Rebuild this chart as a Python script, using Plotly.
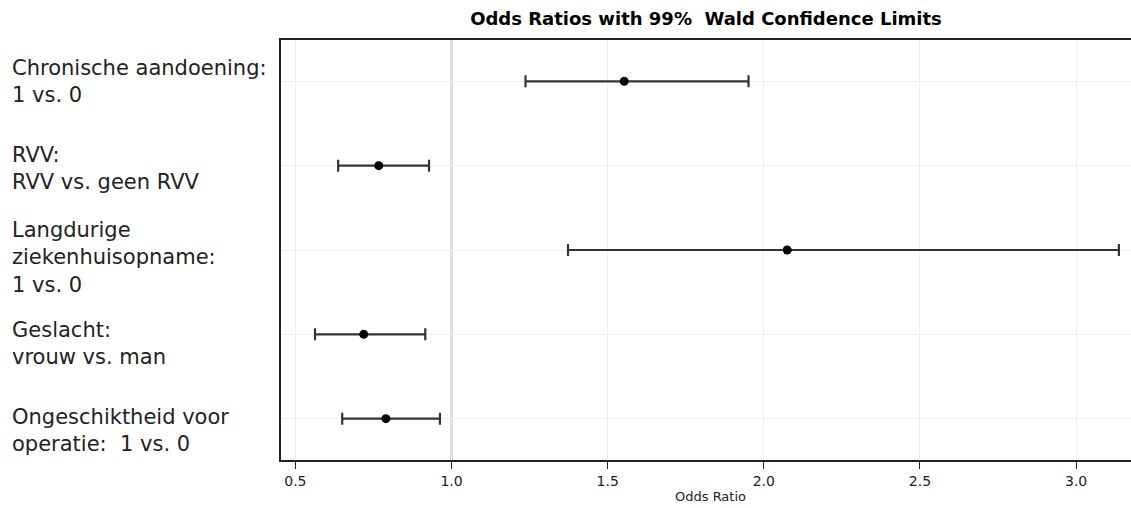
import plotly.graph_objects as go

# ---- data ----
labels = [
    "Chronische aandoening:<br>1 vs. 0",
    "RVV:<br>RVV vs. geen RVV",
    "Langdurige<br>ziekenhuisopname:<br>1 vs. 0",
    "Geslacht:<br>vrouw vs. man",
    "Ongeschiktheid voor<br>operatie:  1 vs. 0",
]
odds_ratio = [1.553, 0.767, 2.075, 0.719, 0.790]
lower_cl = [1.237, 0.637, 1.373, 0.563, 0.650]
upper_cl = [1.951, 0.928, 3.137, 0.916, 0.963]
x_ticks = [0.5, 1.0, 1.5, 2.0, 2.5, 3.0]
x_tick_text = ["0.5", "1.0", "1.5", "2.0", "2.5", "3.0"]
ref_value = 1.0
title_text = "Odds Ratios with 99%  Wald Confidence Limits"
x_title = "Odds Ratio"

rows = list(range(len(labels)))
err_plus = [u - o for u, o in zip(upper_cl, odds_ratio)]
err_minus = [o - l for o, l in zip(odds_ratio, lower_cl)]

FIG_W = 1140
PLOT_W = FIG_W - 281

fig = go.Figure()
fig.add_trace(go.Scatter(
    x=odds_ratio, y=rows, mode="markers",
    marker=dict(color="black", size=9, symbol="circle"),
    error_x=dict(type="data", symmetric=False, array=err_plus, arrayminus=err_minus,
                 color="#333333", thickness=2.2, width=6),
    showlegend=False, hoverinfo="x+y",
))

fig.add_shape(type="line", xref="x", yref="paper", x0=ref_value, x1=ref_value, y0=0, y1=1,
              line=dict(color="#a8a8a8", width=2), layer="between")

label_shift = [0, -3, -7, -9, -12]
for r, lab, ys in zip(rows, labels, label_shift):
    fig.add_annotation(text=lab, xref="paper", yref="y", x=-271 / PLOT_W, y=r,
                       xanchor="left", yanchor="middle", align="left", showarrow=False,
                       yshift=ys, font=dict(family="DejaVu Sans", size=21, color="#222"))

fig.update_layout(
    width=FIG_W, height=508,
    margin=dict(l=281, r=0, t=40, b=48),
    paper_bgcolor="white", plot_bgcolor="white",
    title=dict(text="<b>" + title_text + "</b>", x=706 / FIG_W, xanchor="center",
               y=1 - 19 / 508, yanchor="middle",
               font=dict(family="DejaVu Sans", size=18, color="black")),
    xaxis=dict(range=[0.454, 0.454 + PLOT_W / 312.3], tickvals=x_ticks, ticktext=x_tick_text,
               showgrid=True, gridcolor="#eeeeee", gridwidth=1,
               showline=True, linecolor="#222", linewidth=2, mirror=True,
               ticks="outside", ticklen=7, tickcolor="#222", tickwidth=1,
               tickfont=dict(family="DejaVu Sans", size=14, color="#222"),
               title=dict(text=x_title, font=dict(family="DejaVu Sans", size=13, color="#222"),
                          standoff=4),
               zeroline=False),
    yaxis=dict(range=[4.49, -0.49], tickvals=rows, ticktext=[""] * len(rows),
               showgrid=True, gridcolor="#eeeeee", gridwidth=1,
               showline=True, linecolor="#222", linewidth=2, mirror=False,
               ticks="", zeroline=False),
)

fig.write_html("out.html", config={"displayModeBar": False},
               post_script="document.body.style.margin='0';document.body.style.overflow='hidden';")
